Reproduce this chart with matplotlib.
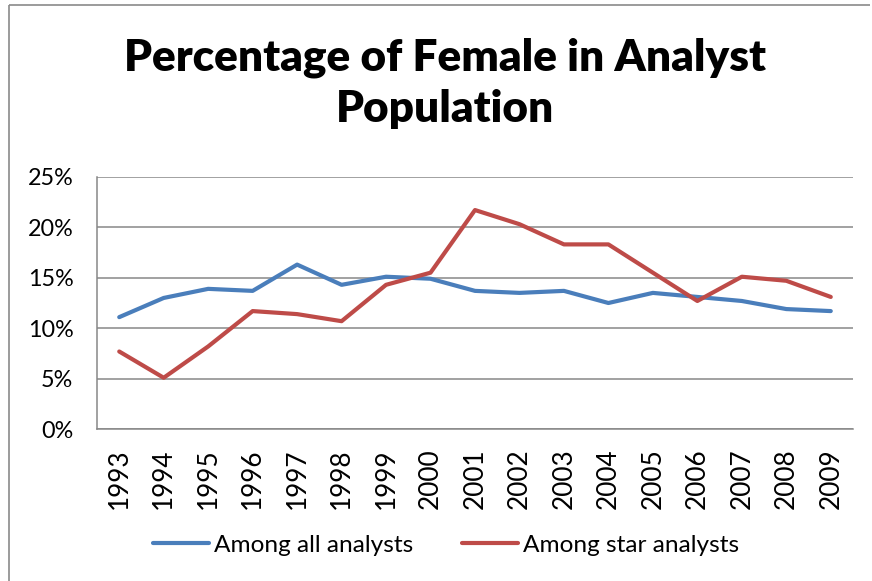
import matplotlib
matplotlib.use("Agg")
import matplotlib.pyplot as plt
from matplotlib.ticker import FuncFormatter
from matplotlib.lines import Line2D

years = ["1993", "1994", "1995", "1996", "1997", "1998", "1999", "2000", "2001",
         "2002", "2003", "2004", "2005", "2006", "2007", "2008", "2009"]
all_analysts = [11.1, 13.0, 13.9, 13.7, 16.3, 14.3, 15.1, 14.9, 13.7,
                13.5, 13.7, 12.5, 13.5, 13.1, 12.7, 11.9, 11.7]
star_analysts = [7.7, 5.1, 8.2, 11.7, 11.4, 10.7, 14.3, 15.5, 21.7,
                 20.3, 18.3, 18.3, 15.5, 12.7, 15.1, 14.7, 13.1]
series_names = ["Among all analysts", "Among star analysts"]
yticks = [0, 5, 10, 15, 20, 25]

FONT = ["Lato", "DejaVu Sans"]
plt.rcParams["font.family"] = FONT

W, H = 872, 581
fig = plt.figure(figsize=(W / 100, H / 100), dpi=100)

# chart area border (top and left edges visible in the reference)
border_kw = dict(transform=fig.transFigure, color="#8a8a8a", linewidth=1.2,
                 solid_capstyle="butt")
fig.add_artist(Line2D([9 / W, 870 / W], [1 - 5 / H, 1 - 5 / H], **border_kw))
fig.add_artist(Line2D([9 / W, 9 / W], [0.0, 1 - 5 / H], **border_kw))

ax = fig.add_axes([97 / W, 1 - 429.3 / H, (853 - 97) / W, (429.3 - 176.7) / H])
x = list(range(len(years)))
ax.plot(x, all_analysts, color="#4A7EBB", lw=3.0, solid_capstyle="round",
        solid_joinstyle="round", label=series_names[0], zorder=3)
ax.plot(x, star_analysts, color="#BE4B48", lw=3.0, solid_capstyle="round",
        solid_joinstyle="round", label=series_names[1], zorder=3)

ax.set_xlim(-0.5, len(years) - 0.5)
ax.set_ylim(0, 25)
ax.set_yticks(yticks)
ax.yaxis.set_major_formatter(FuncFormatter(lambda v, p: f"{v:.0f}%"))
ax.set_xticks(x)
ax.set_xticklabels(years, rotation=90, fontsize=18.8)
ax.tick_params(axis="y", length=0, pad=17, labelsize=16.8)
ax.tick_params(axis="x", length=0, pad=14)
ax.grid(axis="y", color="#878787", lw=1.1)
ax.set_axisbelow(True)
for s in ["top", "right"]:
    ax.spines[s].set_visible(False)
for s in ["left", "bottom"]:
    ax.spines[s].set_color("#878787")
    ax.spines[s].set_linewidth(1.1)

# title
fig.text(445 / W, 1 - 71 / H, "Percentage of Female in Analyst", ha="center",
         va="baseline", fontsize=31.8, fontweight="heavy")
fig.text(445 / W, 1 - 121.7 / H, "Population", ha="center",
         va="baseline", fontsize=31.8, fontweight="heavy")

leg = ax.legend(loc="center", bbox_to_anchor=(446 / W, 1 - 545 / H),
                bbox_transform=fig.transFigure, ncol=2, frameon=False,
                fontsize=17.6, handlelength=2.3, handletextpad=0.2,
                columnspacing=2.0)

fig.savefig("out.png", dpi=100)
